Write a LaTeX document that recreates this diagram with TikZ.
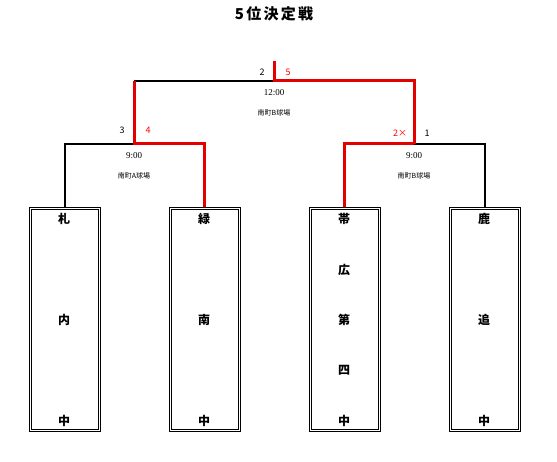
\documentclass[tikz,border=0pt]{standalone}
\usepackage{fontspec}
\setmainfont{Liberation Serif}
\newfontfamily\jp{Noto Sans CJK JP}
\newfontfamily\jpwide[LetterSpace=15]{Noto Sans CJK JP}
\begin{document}
\begin{tikzpicture}[x=1pt,y=-1pt,
  team/.style={draw=black,line width=1pt,minimum width=71pt,minimum height=224pt,inner sep=0pt},
  inner/.style={draw=black,line width=1pt},
  blk/.style={draw=black,line width=2pt},
  rd/.style={draw=red!90!black,line width=3pt},
  chr/.style={font=\jp\bfseries\fontsize{12}{12}\selectfont},
  num/.style={font=\jp\fontsize{9}{9}\selectfont,inner sep=0pt},
  info/.style={font=\jp\fontsize{7}{7}\selectfont,inner sep=0pt},
  tm/.style={font=\fontsize{9}{9}\selectfont,inner sep=0pt}]
\useasboundingbox (0,0) rectangle (557,462);
\node[font=\jpwide\bfseries\fontsize{15}{15}\selectfont] (title) at (274,14) {5位決定戦};
% boxes
\node[team] (b1) at (64.5,319.5) {};
\node[team] (b2) at (204.5,319.5) {};
\node[team] (b3) at (344.5,319.5) {};
\node[team] (b4) at (484.5,319.5) {};
\foreach \b in {b1,b2,b3,b4}
  \draw[inner] ([shift={(2.5,2.5)}]\b.north west) rectangle ([shift={(-2.5,-2.5)}]\b.south east);
% box texts
\node[chr] (t11) at (64,219) {札};
\node[chr] (t12) at (64,320) {内};
\node[chr] (t13) at (64,421) {中};
\node[chr] (t21) at (204,219) {緑};
\node[chr] (t22) at (204,320) {南};
\node[chr] (t23) at (204,421) {中};
\node[chr] (t31) at (344,219) {帯};
\node[chr] (t32) at (344,270) {広};
\node[chr] (t33) at (344,320) {第};
\node[chr] (t34) at (344,370) {四};
\node[chr] (t35) at (344,421) {中};
\node[chr] (t41) at (484,219) {鹿};
\node[chr] (t42) at (484,320) {追};
\node[chr] (t43) at (484,421) {中};
% bracket coordinates
\coordinate (m1) at (134,144);
\coordinate (m2) at (414,144);
\coordinate (fl) at (134,81);
\coordinate (fr) at (414,81);
\coordinate (f) at (274,81);
\coordinate (top) at (274,61);
% connectors
\draw[blk] (b1.north) |- (m1);
\draw[blk] (fl) -- (f);
\draw[blk] (b4.north) |- (m2);
\draw[rd] (b2.north) |- (m1) -- (fl);
\draw[rd] (top) -- (f) -| (m2);
\draw[rd] (m2) -| (b3.north);
% labels
\node[num] (l2) at (262,72) {2};
\node[num,text=red] (l5) at (288,72) {5};
\node[num] (l3) at (122,130) {3};
\node[num,text=red] (l4) at (148,130) {4};
\node[num,text=red] (l2x) at (400,133) {2×};
\node[num] (l1) at (427,133) {1};
% match info
\node[tm] (time0) at (274,93) {12:00};
\node[info] (pl0) at (274,113) {南町B球場};
\node[tm] (time1) at (134,156) {9:00};
\node[info] (pl1) at (134,176) {南町A球場};
\node[tm] (time2) at (414,156) {9:00};
\node[info] (pl2) at (414,176) {南町B球場};
\end{tikzpicture}
\end{document}
